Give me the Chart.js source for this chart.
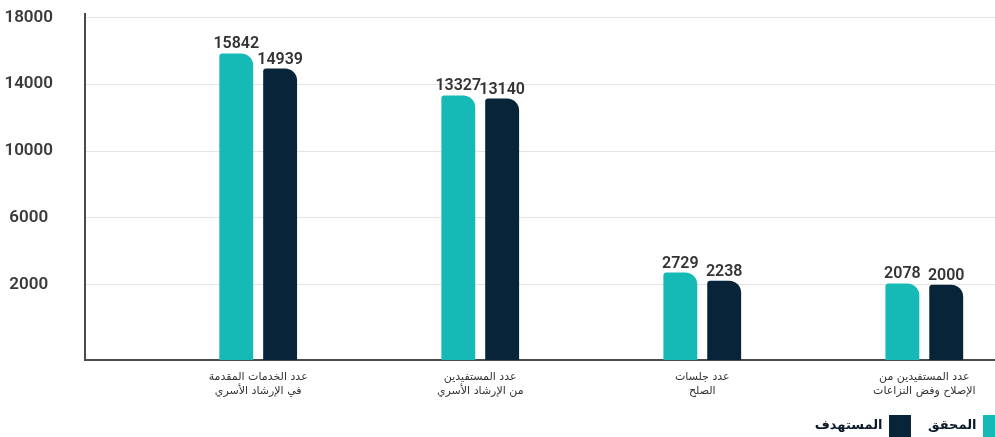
<!DOCTYPE html>
<html>
<head>
<meta charset="utf-8">
<script src="https://cdn.jsdelivr.net/npm/chart.js@4"></script>
<style>
    html, body { margin: 0; background: #ffffff; overflow: hidden; }
    #wrap { width: 1022px; height: 447px; position: relative; }
</style>
</head>
<body>
<div id="wrap"><canvas id="mainChart"></canvas></div>
<script>
// Chart data
const categories = [
    ['عدد الخدمات المقدمة', 'في الإرشاد الأسري'],
    ['عدد المستفيدين', 'من الإرشاد الأسري'],
    ['عدد جلسات', 'الصلح'],
    ['عدد المستفيدين من', 'الإصلاح وفض النزاعات']
];
const achievedLabel = 'المحقق';
const targetLabel = 'المستهدف';
const achieved = [15842, 13327, 2729, 2078];
const target = [14939, 13140, 2238, 2000];
const yTicks = [2000, 6000, 10000, 14000, 18000];

const tealColor = '#15bab6';
const navyColor = '#082438';
const yMin = -2500;
const legendPad = 17;

// Draw value labels above bars
const valueLabels = {
    id: 'valueLabels',
    afterDatasetsDraw(chart) {
        const ctx = chart.ctx;
        ctx.save();
        ctx.font = '600 16px Roboto';
        ctx.fillStyle = '#333333';
        ctx.textAlign = 'center';
        ctx.textBaseline = 'alphabetic';
        chart.data.datasets.forEach((ds, di) => {
            chart.getDatasetMeta(di).data.forEach((bar, i) => {
                ctx.fillText(ds.data[i], bar.x, bar.y - 5);
            });
        });
        ctx.restore();
    }
};

const barShape = {
    borderRadius: { topLeft: 3, topRight: 12, bottomLeft: 0, bottomRight: 0 },
    borderSkipped: 'start',
    base: yMin,
    categoryPercentage: 0.395,
    barPercentage: 0.773
};

new Chart(document.getElementById('mainChart'), {
    type: 'bar',
    data: {
        labels: categories.map((c, i) => i),
        datasets: [
            { label: achievedLabel, data: achieved, backgroundColor: tealColor, ...barShape },
            { label: targetLabel, data: target, backgroundColor: navyColor, ...barShape }
        ]
    },
    options: {
        responsive: true,
        maintainAspectRatio: false,
        animation: false,
        layout: { padding: { top: 14, right: 0, left: 0, bottom: 0 } },
        plugins: {
            tooltip: { enabled: false },
            legend: {
                position: 'bottom',
                align: 'start',
                rtl: true,
                labels: {
                    boxWidth: 22,
                    boxHeight: 22,
                    padding: legendPad,
                    color: '#0b1b2b',
                    font: { family: 'DejaVu Sans', size: 13, weight: 'bold' }
                }
            }
        },
        scales: {
            x: {
                type: 'linear',
                offset: false,
                min: -0.78,
                max: 3.44,
                afterBuildTicks: (scale) => {
                    scale.ticks = categories.map((c, i) => ({ value: i }));
                },
                afterFit: (scale) => { scale.height = 55 - legendPad; },
                grid: { display: false, drawTicks: false },
                border: { display: true, color: '#4a4a4a', width: 2 },
                ticks: {
                    autoSkip: false,
                    maxRotation: 0,
                    padding: 11,
                    color: '#333333',
                    font: { family: 'DejaVu Sans', size: 11, lineHeight: 1.2 },
                    callback: (value) => categories[value] || ''
                }
            },
            y: {
                min: yMin,
                max: 18200,
                afterBuildTicks: (scale) => {
                    scale.ticks = yTicks.map(v => ({ value: v }));
                },
                afterFit: (scale) => {
                    scale.width = 85;
                    scale.paddingTop = 10;
                    scale.paddingBottom = 10;
                },
                grid: { color: '#e4e4e4', lineWidth: 1, drawTicks: false },
                border: { display: true, color: '#4a4a4a', width: 2 },
                ticks: {
                    crossAlign: 'center',
                    padding: 32,
                    color: '#3a3a3a',
                    font: { family: 'Roboto', size: 17, weight: '600' },
                    callback: (value) => String(value)
                }
            }
        }
    },
    plugins: [valueLabels]
});
</script>
</body>
</html>
